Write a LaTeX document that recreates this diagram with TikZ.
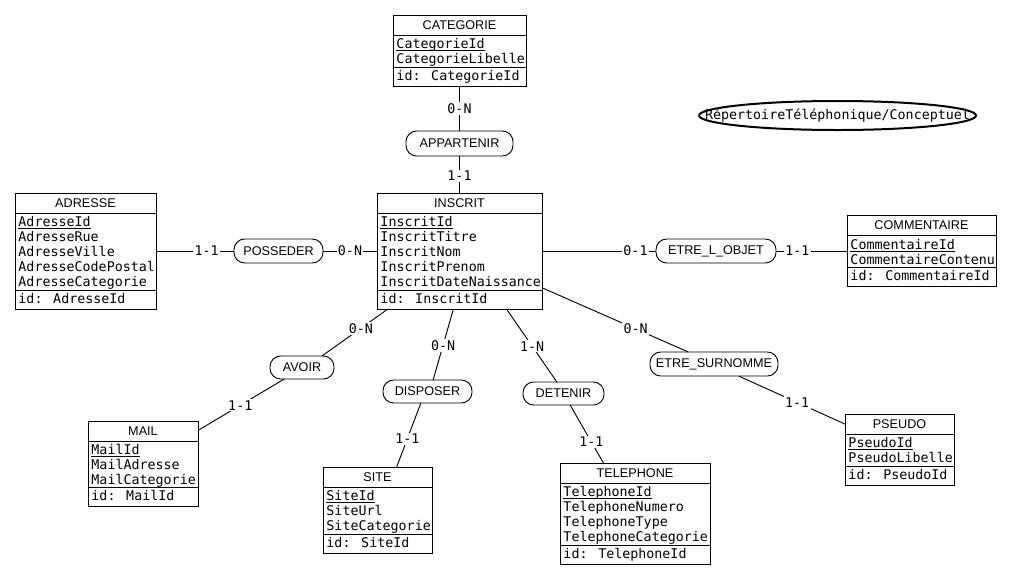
\documentclass[tikz,border=0pt]{standalone}
\usepackage{fontspec}
\usetikzlibrary{calc,shapes.geometric}
\newfontfamily\monof{DejaVu Sans Mono}
\newfontfamily\sansf{Liberation Sans}
\newcommand\attrfont{\monof\fontsize{10pt}{11.25pt}\selectfont}
\newcommand\headfont{\sansf\fontsize{9.5pt}{11pt}\selectfont}
\newcommand\ukey[1]{\underline{\raisebox{0pt}[\height][0pt]{#1}}}
\newcommand\erent[7]{%
  \node[ebox, minimum width=#3, minimum height=#4] (#1) at #2 {};
  \draw ($(#1.north west)+(0,20)$) -- ($(#1.north east)+(0,20)$);
  \draw ($(#1.south west)+(0,-19)$) -- ($(#1.south east)+(0,-19)$);
  \node[etitle] (#1-t) at ($(#1.north)+(0,10)$) {#5};
  \node[eattr] (#1-a) at ($(#1.north west)+(3,23)$) {#6};
  \node[eid] (#1-i) at ($(#1.south west)+(3,-6)$) {#7};
}
\tikzset{
  ebox/.style={draw, inner sep=0pt, outer sep=0pt},
  etitle/.style={font=\headfont, inner sep=0pt},
  eattr/.style={font=\attrfont, inner sep=0pt, align=left, anchor=north west},
  eid/.style={font=\attrfont, inner sep=0pt, anchor=base west},
  rel/.style={draw, rounded corners=8pt, inner sep=0pt, outer sep=0pt, font=\headfont},
  card/.style={font=\attrfont, fill=white, inner sep=1pt},
}
\begin{document}
\begin{tikzpicture}[x=0.75pt, y=-0.75pt, line width=0.7pt]
\fill[white] (0,0) rectangle (1012,579);
\useasboundingbox (0,0) rectangle (1012,579);

% schema title
\node[draw, ellipse, line width=1.5pt, minimum width=207.75pt, minimum height=21.75pt, inner sep=0pt] (schema) at (837.5,115.5) {};
\node[font=\attrfont, inner sep=0pt] (schema-t) at (schema) {RépertoireTéléphonique/Conceptuel};

% entities
\erent{categorie}{(459.5,50.5)}{99.75pt}{53.25pt}{CATEGORIE}{\ukey{CategorieId}\\CategorieLibelle}{id: CategorieId}
\erent{adresse}{(85.5,251)}{105.75pt}{87pt}{ADRESSE}{\ukey{AdresseId}\\AdresseRue\\AdresseVille\\AdresseCodePostal\\AdresseCategorie}{id: AdresseId}
\erent{inscrit}{(459.5,251)}{123.75pt}{87pt}{INSCRIT}{\ukey{InscritId}\\InscritTitre\\InscritNom\\InscritPrenom\\InscritDateNaissance}{id: InscritId}
\erent{commentaire}{(921.5,251)}{111.75pt}{53.25pt}{COMMENTAIRE}{\ukey{CommentaireId}\\CommentaireContenu}{id: CommentaireId}
\erent{mail}{(143,463.5)}{82.5pt}{63.75pt}{MAIL}{\ukey{MailId}\\MailAdresse\\MailCategorie}{id: MailId}
\erent{site}{(377.5,510)}{81.75pt}{64.5pt}{SITE}{\ukey{SiteId}\\SiteUrl\\SiteCategorie}{id: SiteId}
\erent{telephone}{(635,513.5)}{112.5pt}{75.75pt}{TELEPHONE}{\ukey{TelephoneId}\\TelephoneNumero\\TelephoneType\\TelephoneCategorie}{id: TelephoneId}
\erent{pseudo}{(899.5,449.5)}{81.75pt}{53.25pt}{PSEUDO}{\ukey{PseudoId}\\PseudoLibelle}{id: PseudoId}

% relationships
\node[rel, minimum width=80.25pt, minimum height=18.75pt] (appartenir) at (459.5,143.5) {APPARTENIR};
\node[rel, minimum width=66.75pt, minimum height=18pt] (posseder) at (278.5,251) {POSSEDER};
\node[rel, minimum width=90pt, minimum height=18pt] (etre) at (716,251) {ETRE\_L\_OBJET};
\node[rel, minimum width=48pt, minimum height=17.25pt] (avoir) at (302,367.5) {AVOIR};
\node[rel, minimum width=66.75pt, minimum height=17.25pt] (disposer) at (427.5,391.5) {DISPOSER};
\node[rel, minimum width=60.75pt, minimum height=17.25pt] (detenir) at (563.5,393.5) {DETENIR};
\node[rel, minimum width=96pt, minimum height=18pt] (surnomme) at (714,364) {ETRE\_SURNOMME};

% links
\draw (categorie) -- node[card, pos=0.5] (l1) {0-N} (appartenir);
\draw (appartenir) -- node[card, pos=0.54] (l2) {1-1} (inscrit);
\draw (adresse) -- node[card, pos=0.65] (l3) {1-1} (posseder);
\draw (posseder) -- node[card, pos=0.5] (l4) {0-N} (inscrit);
\draw (inscrit) -- node[card, pos=0.82] (l5) {0-1} (etre);
\draw (etre) -- node[card, pos=0.3] (l6) {1-1} (commentaire);
\draw (inscrit.219) -- node[card, pos=0.41] (l7) {0-N} (avoir.30);
\draw (avoir.213) -- node[card, pos=0.51] (l8) {1-1} (mail.31);
\draw (inscrit.264) -- node[card, pos=0.51] (l9) {0-N} (disposer.64);
\draw (disposer.240) -- node[card, pos=0.56] (l10) {1-1} (site.66);
\draw (inscrit.309) -- node[card, pos=0.51] (l11) {1-N} (detenir.120);
\draw (detenir.300) -- node[card, pos=0.64] (l12) {1-1} (telephone.122);
\draw (inscrit.336) -- node[card, pos=0.64] (l13) {0-N} (surnomme.155);
\draw (surnomme.334) -- node[card, pos=0.55] (l14) {1-1} (pseudo.155);
\end{tikzpicture}
\end{document}
